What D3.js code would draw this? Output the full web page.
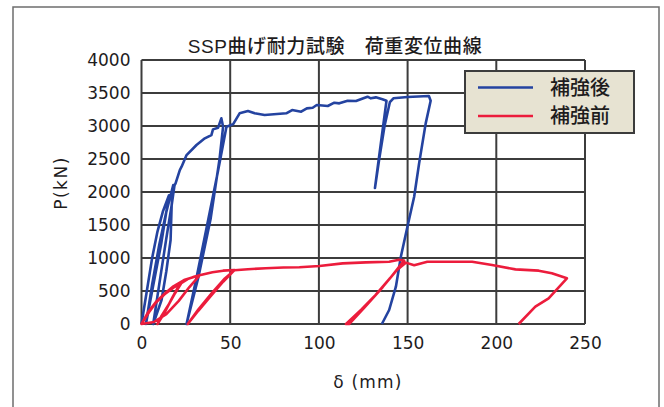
<!doctype html>
<html lang="ja">
<head>
<meta charset="utf-8">
<title>SSP曲げ耐力試験 荷重変位曲線</title>
<script src="https://cdn.jsdelivr.net/npm/d3@7"></script>
<style>
  body { margin: 0; background: #fff; }
  text { font-family: "DejaVu Sans", "Noto Sans CJK JP", sans-serif; fill: #1e1c1d; }
  .jp { font-family: "Liberation Sans", "Noto Sans CJK JP", sans-serif; font-weight: 500; }
</style>
</head>
<body>
<div id="chart"></div>
<script>
// 補強後 (after reinforcement): [δ mm, P kN]
var afterCurve = [
  [0,0],[3,500],[6,1000],[9,1400],[12,1700],[15.5,1950],
  [11,1200],[6,500],[2.5,0],
  [6,600],[10,1200],[14,1700],[17.9,2106],
  [17,1800],[16.4,1273],[14,800],[11.3,364],[6.6,0],
  [10,600],[14,1300],[17,1800],[18.6,2100],
  [19.2,2131],[21.6,2333],[22.6,2383],[25.4,2560],[31,2712],[35.7,2813],[39.4,2863],
  [40.3,2949],[43.2,2975],[45,3116],[46,2990],
  [44,2500],[39,1600],[32,700],[25.4,0],
  [31,700],[37,1500],[43,2300],[47.9,2990],
  [51.6,3025],[55.3,3192],[60,3227],[63.8,3192],[69.4,3166],[81.6,3192],[84.9,3242],
  [90,3217],[93.2,3267],[96.5,3277],[98.8,3318],[105,3303],[108.7,3353],[111.5,3343],
  [116.2,3383],[120.9,3378],[127.4,3444],[129.3,3419],[132.1,3434],[135.8,3404],[138.1,3383],
  [131.6,2060],
  [134,2500],[137,3000],[140,3360],[142,3420],[150,3440],[162,3454],[163,3383],
  [160.2,3040],[156.5,2435],[153.7,1929],[149.9,1474],[146.2,1020],[143.4,565],[139.6,212],[135.5,0]
];

// 補強前 (before reinforcement)
var beforeCurve = [
  [0,0],[4,170],[8,320],[13,450],[18,550],[22.4,617],
  [19,470],[15,280],[11,110],[9,0],
  [13,170],[17,380],[20,530],[22.4,617],
  [26,680],[30,720],[32.7,735],
  [27,560],[21,350],[14,150],[7,30],[0,0],
  [4,190],[8,330],[13,460],[18,570],[24,665],[32.7,740],
  [40,785],[46,808],[52.4,818],
  [46,640],[39,420],[32,200],[26.1,0],
  [32,220],[40,480],[47,690],[52.4,815],
  [60,829],[70,845],[80,855],[89,860],[100.3,878],[113.4,919],[126.5,934],[139.6,944],
  [145.2,975],[148,960],
  [140,690],[132,440],[124,220],[115.3,0],
  [117,0],[126,260],[136,560],[144,820],[149,930],
  [153.7,890],[161.1,944],[186.4,944],[197.6,894],[210.8,828],[223.9,808],[231.3,768],
  [239.8,692],[229.5,389],[222,262],[212.6,0]
];

var xTicks = [0, 50, 100, 150, 200, 250];
var yTicks = [0, 500, 1000, 1500, 2000, 2500, 3000, 3500, 4000];
var seriesNames = ["補強後", "補強前"];
var seriesColors = ["#2443a0", "#ec1c3c"];

var W = 664, H = 407;
var plotL = 141.5, plotR = 585, plotT = 60, plotB = 324;

var svg = d3.select("#chart").append("svg").attr("width", W).attr("height", H);

// outer frame
svg.append("rect")
    .attr("x", 13).attr("y", 7)
    .attr("width", 646).attr("height", 420)
    .attr("fill", "none").attr("stroke", "#6d6d6d").attr("stroke-width", 1.5);

var x = d3.scaleLinear().domain([0, 250]).range([plotL, plotR]);
var y = d3.scaleLinear().domain([0, 4000]).range([plotB, plotT]);

// grid
var grid = svg.append("g").attr("stroke", "#3c3c3c").attr("stroke-width", 2);
grid.selectAll(".gx").data(xTicks).enter().append("line")
    .attr("x1", function(d){ return x(d); }).attr("x2", function(d){ return x(d); })
    .attr("y1", plotT).attr("y2", plotB);
grid.selectAll(".gy").data(yTicks).enter().append("line")
    .attr("x1", plotL).attr("x2", plotR)
    .attr("y1", function(d){ return y(d); }).attr("y2", function(d){ return y(d); });

// axes (labels only)
var xAxis = svg.append("g").attr("transform", "translate(0," + plotB + ")")
    .call(d3.axisBottom(x).tickValues(xTicks).tickFormat(d3.format("d")).tickSize(0).tickPadding(10));
var yAxis = svg.append("g").attr("transform", "translate(" + plotL + ",0)")
    .call(d3.axisLeft(y).tickValues(yTicks).tickFormat(d3.format("d")).tickSize(0).tickPadding(11));
[xAxis, yAxis].forEach(function(a){
  a.select(".domain").remove();
  a.attr("font-size", null).attr("font-family", null);
  a.selectAll("text").attr("font-size", 17).attr("fill", "#1e1c1d");
});
xAxis.selectAll("text").attr("dy", "0.9em");

// curves
var line = d3.line().x(function(d){ return x(d[0]); }).y(function(d){ return y(d[1]); });
[afterCurve, beforeCurve].forEach(function(c, i){
  svg.append("path").datum(c)
      .attr("d", line)
      .attr("fill", "none")
      .attr("stroke", seriesColors[i])
      .attr("stroke-width", 2.6)
      .attr("stroke-linejoin", "round");
});

// titles
svg.append("text").attr("class", "jp").attr("x", 335).attr("y", 53).attr("text-anchor", "middle")
    .attr("font-size", 19).attr("letter-spacing", 0.6).text("SSP曲げ耐力試験　荷重変位曲線");
svg.append("text").attr("x", 368).attr("y", 388).attr("text-anchor", "middle")
    .attr("font-size", 17).attr("letter-spacing", 1.2).text("δ (mm)");
svg.append("text").attr("transform", "translate(67,183) rotate(-90)").attr("text-anchor", "middle")
    .attr("font-size", 17).attr("letter-spacing", 1.5).text("P(kN)");

// legend
var lg = svg.append("g");
lg.append("rect").attr("x", 465).attr("y", 71).attr("width", 169).attr("height", 62)
    .attr("fill", "#e7e3d2").attr("stroke", "#3c3c3c").attr("stroke-width", 2);
seriesNames.forEach(function(n, i){
  var ly = 87.5 + i * 28.5;
  lg.append("line").attr("x1", 478).attr("x2", 533).attr("y1", ly).attr("y2", ly)
      .attr("stroke", seriesColors[i]).attr("stroke-width", 2.6);
  lg.append("text").attr("class", "jp").attr("x", 550).attr("y", ly + 7)
      .attr("font-size", 20).text(n);
});
</script>
</body>
</html>
